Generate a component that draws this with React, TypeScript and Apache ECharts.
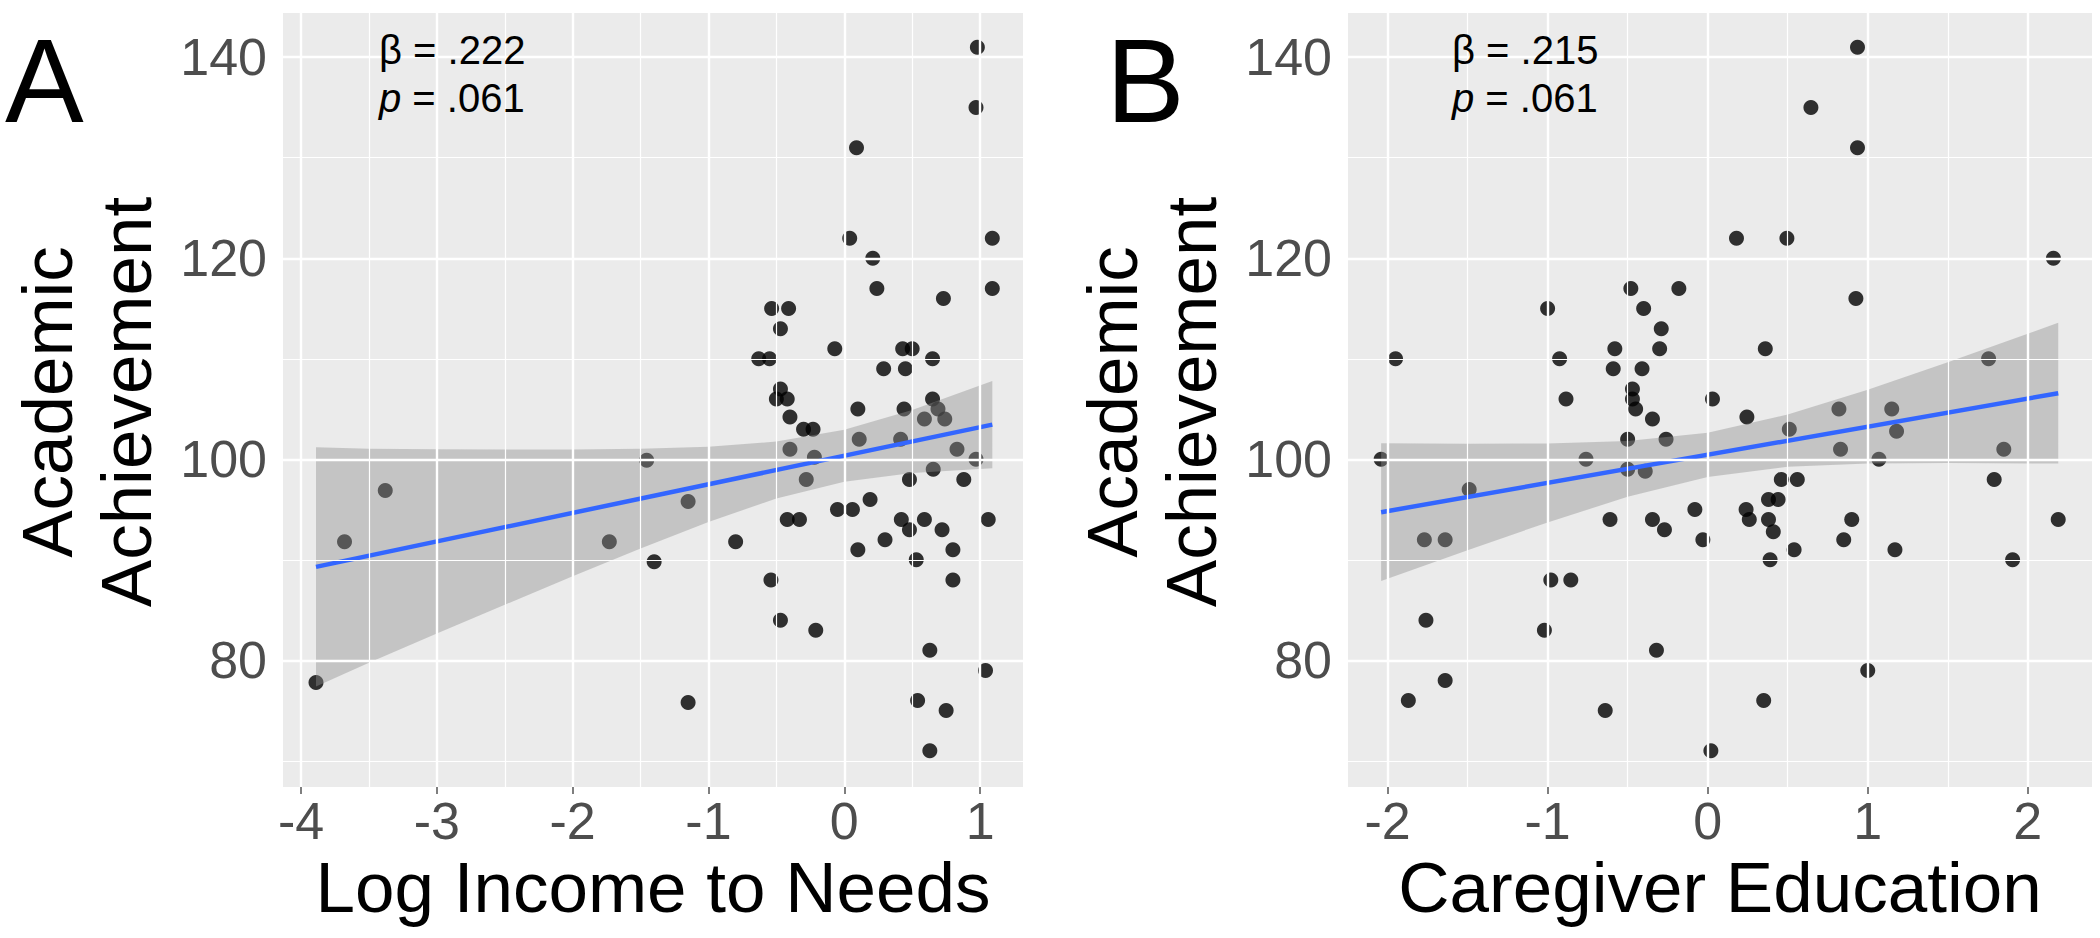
import React, { useEffect, useRef } from "react";
import * as echarts from "echarts";

// ---------- Data ----------
// Panel A: Log Income to Needs vs Academic Achievement
const incomeX = [
  -3.89, -3.68, -3.38, -1.73, -1.455, -1.40, -1.15, -1.15, -0.80,
  0.98, 0.97, 0.09, 0.04, 1.09, 0.21, 0.24, 1.09, 0.73,
  -0.535, -0.41, -0.47, -0.07, 0.43, 0.50, -0.63, -0.55, 0.65,
  0.29, 0.45, -0.47, -0.50, -0.42, 0.10, 0.44, 0.65, 0.69, 0.59, 0.74,
  -0.40, -0.30, -0.23, 0.11, 0.415, -0.40, 0.83, 0.97, -0.22, 0.655,
  -0.28, 0.48, 0.88, 0.19, -0.05, 0.06, -0.42, -0.33, 0.42, 0.48, 0.59,
  0.72, 1.06, 0.30, 0.10, 0.80, 0.53, 0.80, -0.54, -0.47, -0.21, 0.63,
  1.04, 0.54, 0.75, 0.63,
];
const incomeY = [
  77.8, 91.8, 96.9, 91.8, 99.9, 89.8, 95.8, 75.8, 91.8,
  141, 135, 131, 122, 122, 120, 117, 117, 116,
  115, 115, 113, 111, 111, 111, 110, 110, 110,
  109, 109, 107, 106, 106, 105, 105, 106, 105, 104, 104,
  104.2, 103, 103, 102, 102, 101, 101, 100, 100.2, 99,
  98, 98, 98, 96, 95, 95, 94, 94, 94, 93, 94,
  93, 94, 92, 91, 91, 90, 88, 88, 84, 83, 81,
  79, 76, 75, 71,
];
const incomeFitX = [-3.89, 1.09];
const incomeFitY = [89.3, 103.45];
const incomeBandX = [-3.89, -3.5, -3, -2.5, -2, -1.5, -1, -0.5, 0, 0.5, 1.09];
const incomeBandUp = [101.2, 101.05, 101.0, 100.97, 100.98, 101.05, 101.25, 101.76, 102.93, 104.91, 107.8];
const incomeBandLo = [77.4, 79.77, 82.66, 85.53, 88.36, 91.13, 93.77, 96.1, 97.77, 98.63, 99.1];

// Panel B: Caregiver Education vs Academic Achievement
const eduX = [
  0.936, 0.645, 0.936, 0.18, 0.495, 2.16, 0.926, 0.36, 1.755, 0.03,
  0.245, 0.82, 1.15, 0.51, 1.18, 0.83, 1.85, 1.07, 0.46, 0.56,
  1.79, 0.38, 0.44, 0.24, 0.26, 0.38, 0.41, 0.90, 2.19, 0.85,
  0.54, 1.17, 0.39, 1.905, 1.00, 0.35, 0.02,
  -0.48, -0.18, -1.00, -0.40, -0.29, -0.58, -0.30, -1.95, -0.925,
  -0.59, -0.41, -0.47, -0.47, -0.45, -0.885, -0.345, -0.50, -0.26,
  -2.04, -0.76, -0.50, -0.39, -1.49, -0.61, -0.345, -0.27, -0.08,
  -0.03, -1.77, -1.64, -0.98, -0.855, -1.76, -1.02, -0.32, -1.64,
  -1.87, -0.64,
];
const eduY = [
  141, 135, 131, 122, 122, 120, 116, 111, 110, 106,
  104.2, 105, 105, 103, 102.8, 101, 101, 100, 98, 98,
  98, 96, 96, 95, 94, 94, 92.8, 94, 94, 92,
  91, 91, 90, 90, 79, 76, 71,
  117, 117, 115, 115, 113, 111, 111, 110, 110,
  109, 109, 107, 106, 105, 106, 104, 102, 102,
  100, 100, 99, 98.8, 97, 94, 94, 93, 95,
  92, 92, 92, 88, 88, 84, 83, 81, 78,
  76, 75,
];
const eduFitX = [-2.04, 2.19];
const eduFitY = [94.74, 106.58];
const eduBandX = [-2.04, -1.5, -1, -0.5, 0, 0.5, 1, 1.5, 2.19];
const eduBandUp = [101.59, 101.54, 101.58, 101.83, 102.65, 104.45, 106.92, 109.66, 113.58];
const eduBandLo = [87.89, 90.96, 93.72, 96.27, 98.25, 99.25, 99.58, 99.64, 99.58];

// Axis ticks
const incomeTicks = [-4, -3, -2, -1, 0, 1];
const incomeMinor = [-3.5, -2.5, -1.5, -0.5, 0.5];
const eduTicks = [-2, -1, 0, 1, 2];
const eduMinor = [-1.5, -0.5, 0.5, 1.5];
const achTicks = [80, 100, 120, 140];
const achMinor = [70, 90, 110, 130];

const statsA = { beta: ".222", p: ".061" };
const statsB = { beta: ".215", p: ".061" };

// ---------- Chart ----------
const FONT = '"Liberation Sans", Arial, Helvetica, sans-serif';
const Y_MIN = 67.4;
const Y_MAX = 144.4;

function zip(xs: number[], ys: number[]) {
  return xs.map((x, i) => [x, ys[i]]);
}

function buildOption() {
  const panels = [
    {
      left: 283, width: 740, xMin: -4.133, xMax: 1.316,
      ticks: incomeTicks, minor: incomeMinor, name: "Log Income to Needs",
      px: incomeX, py: incomeY, fx: incomeFitX, fy: incomeFitY,
      bx: incomeBandX, bu: incomeBandUp, bl: incomeBandLo,
    },
    {
      left: 1348, width: 744, xMin: -2.247, xMax: 2.401,
      ticks: eduTicks, minor: eduMinor, name: "Caregiver Education",
      px: eduX, py: eduY, fx: eduFitX, fy: eduFitY,
      bx: eduBandX, bu: eduBandUp, bl: eduBandLo,
    },
  ];

  const grid: any[] = [];
  const xAxis: any[] = [];
  const yAxis: any[] = [];
  const series: any[] = [];

  panels.forEach((p, i) => {
    grid.push({
      left: p.left, top: 13, width: p.width, height: 774,
      show: true, backgroundColor: "#EBEBEB", borderWidth: 0,
    });
    xAxis.push({
      type: "value", gridIndex: i, min: p.xMin, max: p.xMax,
      axisLine: { show: false },
      splitLine: { show: false },
      axisTick: { show: true, customValues: p.ticks, length: 7, lineStyle: { color: "#555", width: 1.5 } },
      axisLabel: { customValues: p.ticks, fontSize: 52, color: "#4D4D4D", fontFamily: FONT, margin: 8 },
      name: p.name, nameLocation: "middle", nameGap: 62,
      nameTextStyle: { fontSize: 71, color: "#000", fontFamily: FONT },
    });
    yAxis.push({
      type: "value", gridIndex: i, min: Y_MIN, max: Y_MAX,
      axisLine: { show: false },
      splitLine: { show: false },
      axisTick: { show: true, customValues: achTicks, length: 7, lineStyle: { color: "#555", width: 1.5 } },
      axisLabel: { customValues: achTicks, fontSize: 52, color: "#4D4D4D", fontFamily: FONT, margin: 16 },
    });

    const gl = (arr: number[], key: string, w: number) =>
      arr.map((v) => ({ [key]: v, lineStyle: { color: "#FFFFFF", width: w, type: "solid" } }));

    series.push({
      type: "line", xAxisIndex: i, yAxisIndex: i, z: 1, silent: true,
      data: [[p.ticks[0], achTicks[0]]], symbol: "none", showSymbol: false,
      lineStyle: { opacity: 0, width: 0 },
      markLine: {
        silent: true, symbol: ["none", "none"], label: { show: false },
        emphasis: { disabled: true },
        data: [
          ...gl(p.minor, "xAxis", 1.2),
          ...gl(achMinor, "yAxis", 1.2),
          ...gl(p.ticks, "xAxis", 2.4),
          ...gl(achTicks, "yAxis", 2.4),
        ],
      },
    });
    series.push({
      type: "scatter", xAxisIndex: i, yAxisIndex: i, z: 2, silent: true,
      data: zip(p.px, p.py), symbolSize: 15,
      itemStyle: { color: "#000000" },
    });
    series.push({
      type: "custom", xAxisIndex: i, yAxisIndex: i, z: 3, silent: true,
      data: [[p.bx[0], p.bu[0]]],
      renderItem: (_params: any, api: any) => {
        const pts: number[][] = [];
        p.bx.forEach((x, k) => pts.push(api.coord([x, p.bu[k]])));
        for (let k = p.bx.length - 1; k >= 0; k--) pts.push(api.coord([p.bx[k], p.bl[k]]));
        return {
          type: "polygon",
          shape: { points: pts },
          style: { fill: "#8F8F8F", opacity: 0.42 },
        };
      },
    });
    series.push({
      type: "line", xAxisIndex: i, yAxisIndex: i, z: 4, silent: true,
      data: zip(p.fx, p.fy), symbol: "none", showSymbol: false,
      lineStyle: { color: "#3366FF", width: 4.5 },
    });
  });

  const txt = (x: number, y: number, text: string, size: number, extra: any = {}) => ({
    type: "text", x, y, z: 100, silent: true,
    style: {
      text, fontSize: size, fontFamily: FONT, fill: "#000",
      align: "left", textAlign: "left", verticalAlign: "middle", textVerticalAlign: "middle",
      ...extra,
    },
  });
  const rich = { i: { fontStyle: "italic", fontSize: 40, fontFamily: FONT, fill: "#000" } };

  const yTitle = (x: number) => ({
    type: "text", x, y: 402, rotation: Math.PI / 2, z: 100, silent: true,
    style: {
      text: "Academic\nAchievement", fontSize: 71, fontFamily: FONT, fill: "#000",
      align: "center", textAlign: "center", verticalAlign: "middle", textVerticalAlign: "middle",
      lineHeight: 79,
    },
  });

  const graphic: any[] = [
    txt(5, 81, "A", 118),
    txt(1106, 81, "B", 118),
    txt(379, 50, "β = " + statsA.beta, 40),
    txt(379, 98, "{i|p} = " + statsA.p, 40, { rich }),
    txt(1452, 50, "β = " + statsB.beta, 40),
    txt(1452, 98, "{i|p} = " + statsB.p, 40, { rich }),
    yTitle(87),
    yTitle(1152),
  ];

  return {
    animation: false,
    backgroundColor: "#FFFFFF",
    grid, xAxis, yAxis, series, graphic,
  };
}

export default function App() {
  const ref = useRef<HTMLDivElement>(null);
  useEffect(() => {
    if (!ref.current) return;
    const chart = echarts.init(ref.current, null, { renderer: "svg" });
    chart.setOption(buildOption() as any);
    return () => chart.dispose();
  }, []);
  return (
    <div
      ref={ref}
      style={{ position: "absolute", left: 0, top: 0, width: 2100, height: 938, background: "#fff" }}
    />
  );
}
